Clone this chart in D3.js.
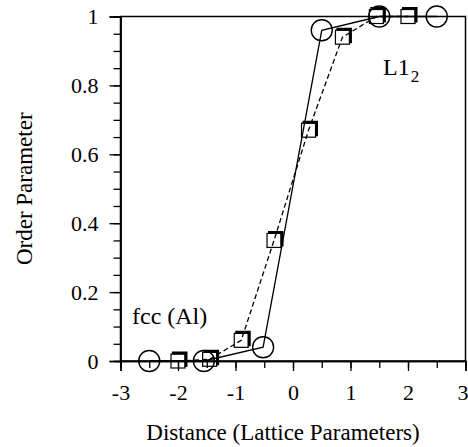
<!DOCTYPE html>
<html>
<head>
<meta charset="utf-8">
<script src="https://cdn.jsdelivr.net/npm/d3@7"></script>
<style>
  body { margin: 0; background: #fff; }
  text { font-family: "Liberation Serif", "Times New Roman", serif; fill: #000; }
</style>
</head>
<body>
<div id="chart"></div>
<script>
// circles, solid line
var circleX = [-2.5, -1.55, -0.52, 0.5, 1.5, 2.5];
var circleY = [0, 0, 0.04, 0.96, 1.0, 1.0];
// squares, dashed line
var squareX = [-2.0, -1.45, -0.9, -0.33, 0.27, 0.86, 1.45, 2.0];
var squareY = [0, 0.005, 0.06, 0.35, 0.67, 0.94, 1.0, 1.0];

var xTicks = [-3, -2, -1, 0, 1, 2, 3];
var yTicks = [0, 0.2, 0.4, 0.6, 0.8, 1];

var margin = {top: 16.5, right: 2.5, bottom: 86, left: 120.5},
    width = 468 - margin.left - margin.right,
    height = 447 - margin.top - margin.bottom;

var svg = d3.select("#chart")
    .append("svg")
    .attr("width", 468)
    .attr("height", 447)
    .append("g")
    .attr("transform", "translate(" + margin.left + "," + margin.top + ")");

var x = d3.scaleLinear().domain([-3, 3]).range([0, width]);
var y = d3.scaleLinear().domain([0, 1]).range([height, 0]);

// frame
svg.append("rect")
    .attr("width", width)
    .attr("height", height)
    .attr("fill", "none")
    .attr("stroke", "#000")
    .attr("stroke-width", 1.5);

// minor ticks
svg.append("g")
    .attr("transform", "translate(0," + height + ")")
    .call(d3.axisBottom(x).tickValues(d3.range(-3, 3.01, 0.5)).tickSize(7).tickFormat(""));
svg.append("g")
    .call(d3.axisLeft(y).tickValues(d3.range(0, 1.001, 0.05)).tickSize(7).tickFormat(""));

// major ticks
var xAxis = svg.append("g")
    .attr("transform", "translate(0," + height + ")")
    .call(d3.axisBottom(x).tickValues(xTicks).tickSize(10).tickPadding(13).tickFormat(d => String(d)));
var yAxis = svg.append("g")
    .call(d3.axisLeft(y).tickValues(yTicks).tickSize(11).tickPadding(11).tickFormat(d => String(d)));

svg.selectAll(".domain").attr("stroke-width", 1.5);
svg.selectAll(".tick line").attr("stroke-width", 1.3);
svg.selectAll(".tick text").style("font-size", "22px").attr("font-family", null);
// keep the last x label inside the page
xAxis.selectAll(".tick text").filter(d => d === 3).attr("dx", -3);

// axis labels
svg.append("text")
    .attr("text-anchor", "middle")
    .attr("x", width / 2 - 10)
    .attr("y", height + 79)
    .style("font-size", "23px")
    .text("Distance (Lattice Parameters)");

svg.append("text")
    .attr("text-anchor", "middle")
    .attr("transform", "rotate(-90)")
    .attr("x", -height / 2)
    .attr("y", -89)
    .style("font-size", "23px")
    .text("Order Parameter");

// lines
var circles = circleX.map((d, i) => ({x: d, y: circleY[i]}));
var squares = squareX.map((d, i) => ({x: d, y: squareY[i]}));
var line = d3.line().x(d => x(d.x)).y(d => y(d.y));

svg.append("path")
    .datum(circles)
    .attr("d", line)
    .attr("fill", "none")
    .attr("stroke", "#000")
    .attr("stroke-width", 1.3);

svg.append("path")
    .datum(squares)
    .attr("d", line)
    .attr("fill", "none")
    .attr("stroke", "#000")
    .attr("stroke-width", 1.3)
    .attr("stroke-dasharray", "5,3");

// circle markers
svg.selectAll("circle.pt")
    .data(circles)
    .enter().append("circle")
    .attr("class", "pt")
    .attr("cx", d => x(d.x))
    .attr("cy", d => y(d.y))
    .attr("r", 10.5)
    .attr("fill", "none")
    .attr("stroke", "#000")
    .attr("stroke-width", 1.4);

// square markers with shadow on top and right
var s = 14;
var sq = svg.selectAll("g.sq")
    .data(squares)
    .enter().append("g")
    .attr("class", "sq")
    .attr("transform", d => "translate(" + x(d.x) + "," + y(d.y) + ")");

sq.append("rect")
    .attr("x", -s / 2)
    .attr("y", -s / 2)
    .attr("width", s)
    .attr("height", s)
    .attr("fill", "none")
    .attr("stroke", "#000")
    .attr("stroke-width", 1.2);

sq.append("path")
    .attr("d", "M" + (-s / 2 + 1) + "," + (-s / 2 - 1) + "H" + (s / 2 + 1) + "V" + (s / 2 - 1))
    .attr("fill", "none")
    .attr("stroke", "#000")
    .attr("stroke-width", 3);

// annotations
var l12 = svg.append("text")
    .attr("x", x(1.565))
    .attr("y", 58)
    .style("font-size", "24px");
l12.append("tspan").text("L1");
l12.append("tspan").attr("dy", 7).attr("dx", 1).style("font-size", "17px").text("2");

svg.append("text")
    .attr("x", x(-2.8))
    .attr("y", 307)
    .style("font-size", "24px")
    .text("fcc (Al)");
</script>
</body>
</html>
